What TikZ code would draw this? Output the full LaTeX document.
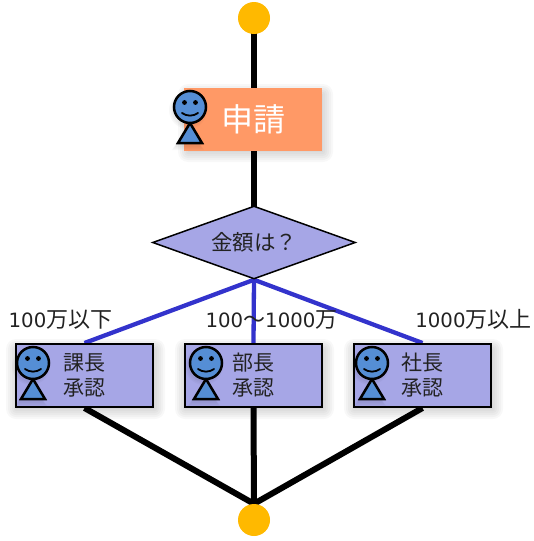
\documentclass[tikz,border=0pt]{standalone}
\usepackage{fontspec}
\setmainfont{DejaVu Sans}
\newfontfamily\jpfont{Noto Sans CJK JP}
\usetikzlibrary{shapes.geometric,backgrounds}
\definecolor{gold}{HTML}{FFB900}
\definecolor{peach}{HTML}{FF9966}
\definecolor{lav}{HTML}{A6A6E6}
\definecolor{actorblue}{HTML}{558ED5}
\definecolor{linkblue}{HTML}{3333CC}
\definecolor{ink}{HTML}{222222}
\newcommand{\cjkamt}[1]{{\jpfont\fontsize{22}{22}\selectfont #1}}
\tikzset{
  term/.style={circle,fill=gold,minimum size=32pt,inner sep=0pt},
  apply/.style={rectangle,fill=peach,minimum width=138pt,minimum height=63pt,inner sep=0pt,text=white,font=\jpfont\fontsize{32}{32}\selectfont},
  decide/.style={diamond,draw=black,line width=1.5pt,fill=lav,minimum width=203pt,minimum height=73pt,inner sep=0pt,aspect=2.78,text=ink,font=\jpfont\fontsize{21.5}{22}\selectfont},
  approve/.style={rectangle,draw=black,line width=2pt,fill=lav,minimum width=137pt,minimum height=63pt,inner sep=0pt,align=left,text=ink,font=\jpfont\fontsize{21}{25}\selectfont},
  amount/.style={text=ink,inner sep=0pt,font=\fontsize{19.7}{22}\selectfont},
  flow/.style={line width=6pt,draw=black},
  branch/.style={line width=4.3pt,draw=linkblue},
  actorpart/.style={draw=black,line width=2.5pt,fill=actorblue},
  softshadow/.style={fill=black,fill opacity=0.028,draw=none}
}
\newcommand{\softrect}[4]{%
  \foreach \g in {-2,0,2,4,6,8}{\fill[softshadow,rounded corners={max(\g+2,0)*1pt}] (#1-\g,#2-\g) rectangle (#3+\g,#4+\g);}%
}
\newcommand{\actorfig}[2]{%
  \begin{scope}[shift={(#1,#2)}]
    \foreach \g in {0,1.5,3}{%
      \fill[softshadow] (-2,3) circle ({16+\g});
      \fill[softshadow] (-15-\g,40+\g) -- (-2,17) -- (11+\g,40+\g) -- cycle;}
    \draw[actorpart] (0,16) -- (-12,36) -- (12,36) -- cycle;
    \draw[actorpart] (0,0) circle (16);
    \fill[black] (-5.5,-4.5) circle (2.4) (5.5,-4.5) circle (2.4);
    \draw[black,line width=1.8pt,line cap=round] (-8,6) .. controls (-3,9.5) and (3,9.5) .. (8,6);
  \end{scope}}
\begin{document}
\begin{tikzpicture}[x=1pt,y=-1pt]
\useasboundingbox (0,0) rectangle (534,541);
\node[term] (start) at (254,18) {};
\node[term] (finish) at (254,520) {};
\node[apply] (req) at (253,119.5) {申請};
\node[decide] (gate) at (254,242.5) {金額は？};
\node[approve] (mgrA) at (84.5,375.5) {課長\\承認};
\node[approve] (mgrB) at (253.5,375.5) {部長\\承認};
\node[approve] (mgrC) at (422.5,375.5) {社長\\承認};
\node[amount] (amtA) at (60.5,319.5) {100\cjkamt{万以下}};
\node[amount] (amtB) at (271.5,319.5) {100\cjkamt{～}1000\cjkamt{万}};
\node[amount] (amtC) at (473.5,319.5) {1000\cjkamt{万以上}};
\begin{pgfonlayer}{background}
  \softrect{186}{92}{325}{154}
  \softrect{14}{347}{157}{411}
  \softrect{183}{347}{326}{411}
  \softrect{352}{347}{495}{411}
  \draw[flow] (start.center) -- (gate.center);
  \draw[branch] (gate.south) -- (mgrA.north);
  \draw[branch] (gate.south) -- (mgrB.north);
  \draw[branch] (gate.south) -- (mgrC.north);
  \draw[flow] (mgrA.south) -- (finish.north);
  \draw[flow] (mgrB.south) -- (finish.north);
  \draw[flow] (mgrC.south) -- (finish.north);
\end{pgfonlayer}
\actorfig{190}{107}
\actorfig{33}{363}
\actorfig{206}{363}
\actorfig{372}{363}
\end{tikzpicture}
\end{document}
